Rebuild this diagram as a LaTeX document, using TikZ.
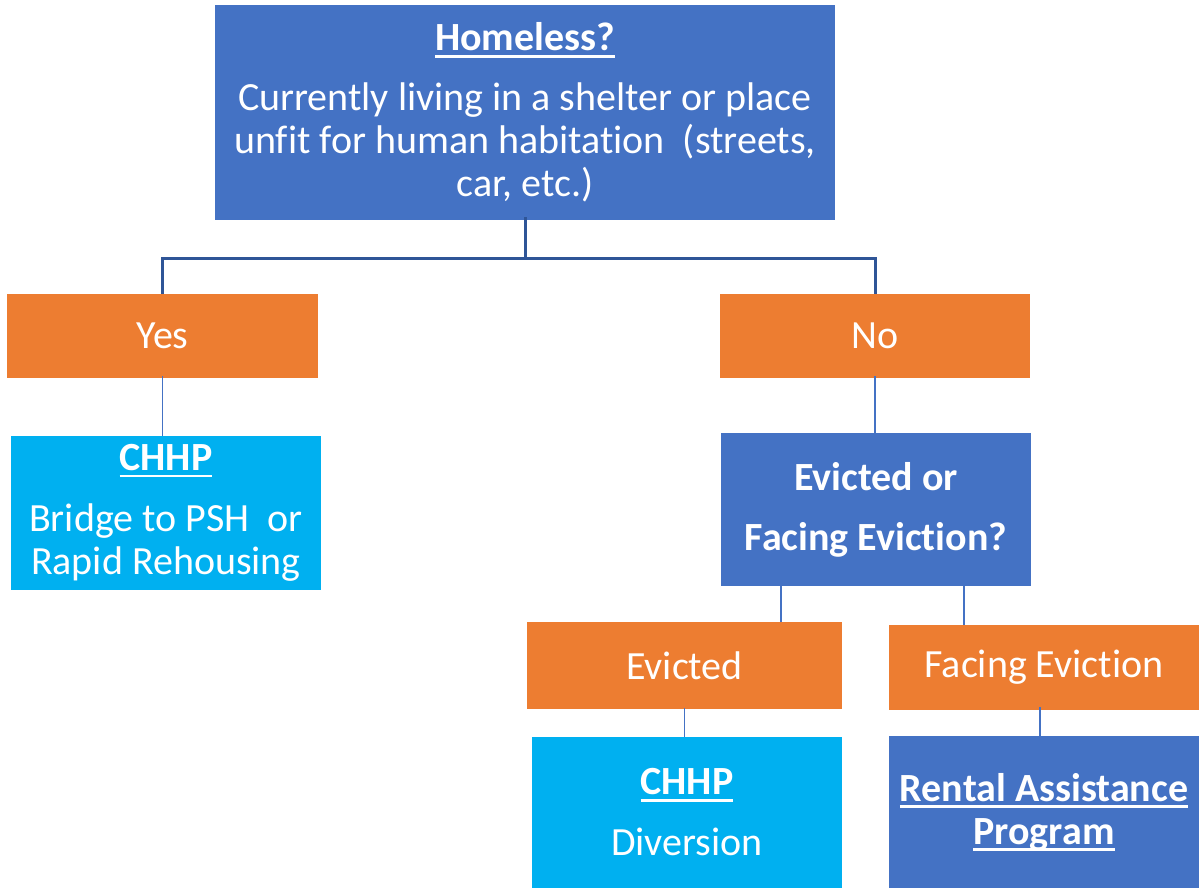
\documentclass[tikz,border=0pt]{standalone}
\usepackage{fontspec}
\setmainfont{Carlito}[Ligatures={NoCommon}]
\definecolor{bluebox}{HTML}{4472C4}
\definecolor{orangebox}{HTML}{ED7D31}
\definecolor{cyanbox}{HTML}{00B0F0}
\definecolor{darkline}{HTML}{2F5597}
\newcommand\ulx[1]{\setbox0\hbox{#1}\rlap{\rule[-0.17em]{\wd0}{0.065em}}\box0}
\tikzset{
  box/.style={rectangle, inner sep=0pt, text=white, align=center,
    font=\fontsize{40}{43}\selectfont},
  bluenode/.style={box, fill=bluebox},
  orangenode/.style={box, fill=orangebox},
  cyannode/.style={box, fill=cyanbox},
  mainconn/.style={draw=darkline, line width=3pt},
  subconn/.style={draw=bluebox, line width=1.4pt},
}
\begin{document}
\begin{tikzpicture}[x=1pt,y=-1pt]
\useasboundingbox (0,0) rectangle (1199,888);
\node[bluenode, minimum width=620pt, minimum height=215pt] (home) at (525,112.5)
  {\textbf{\ulx{Homeless?}}\\[17pt]Currently living in a shelter or place\\unfit for human habitation~ (streets,\\car, etc.)};
\node[orangenode, minimum width=311pt, minimum height=84pt] (yes) at (162.5,336) {Yes};
\node[orangenode, minimum width=310pt, minimum height=84pt] (no) at (875,336) {No};
\node[cyannode, minimum width=310pt, minimum height=154pt] (chhpa) at (166,513)
  {\textbf{\ulx{CHHP}}\\[18pt]Bridge to PSH~ or\\Rapid Rehousing};
\node[bluenode, minimum width=310pt, minimum height=153pt] (evq) at (876,509.5)
  {\textbf{Evicted or}\\[17pt]\textbf{Facing Eviction?}};
\node[orangenode, minimum width=315pt, minimum height=87pt] (ev) at (684.5,665.5) {Evicted};
\node[orangenode, minimum width=310pt, minimum height=85pt] (fe) at (1044,667.5) {Facing Eviction};
\node[cyannode, minimum width=310pt, minimum height=151pt] (chhpb) at (687,812.5)
  {\textbf{\ulx{CHHP}}\\[18pt]Diversion};
\node[bluenode, minimum width=310pt, minimum height=152pt] (rent) at (1044,812)
  {\textbf{\ulx{Rental Assistance}}\\\textbf{\ulx{Program}}};
\coordinate (mid) at (525,258);
\draw[mainconn] ([yshift=3pt]home.south) -- (mid) -| (yes.north);
\draw[mainconn] (mid) -| (no.north);
\draw[subconn] ([yshift=2pt]yes.south) -- (yes.south |- chhpa.north);
\draw[subconn] ([yshift=2pt]no.south) -- (no.south |- evq.north);
\draw[subconn] ([xshift=-95pt,yshift=3pt]evq.south) -- ([xshift=-95pt]evq.south |- ev.north);
\draw[subconn] ([xshift=88pt,yshift=3pt]evq.south) -- ([xshift=88pt]evq.south |- fe.north);
\draw[subconn] ([yshift=1pt]ev.south) -- (ev.south |- chhpb.north);
\draw[subconn] ([xshift=-4pt,yshift=3pt]fe.south) -- ([xshift=-4pt]fe.south |- rent.north);
\end{tikzpicture}
\end{document}
